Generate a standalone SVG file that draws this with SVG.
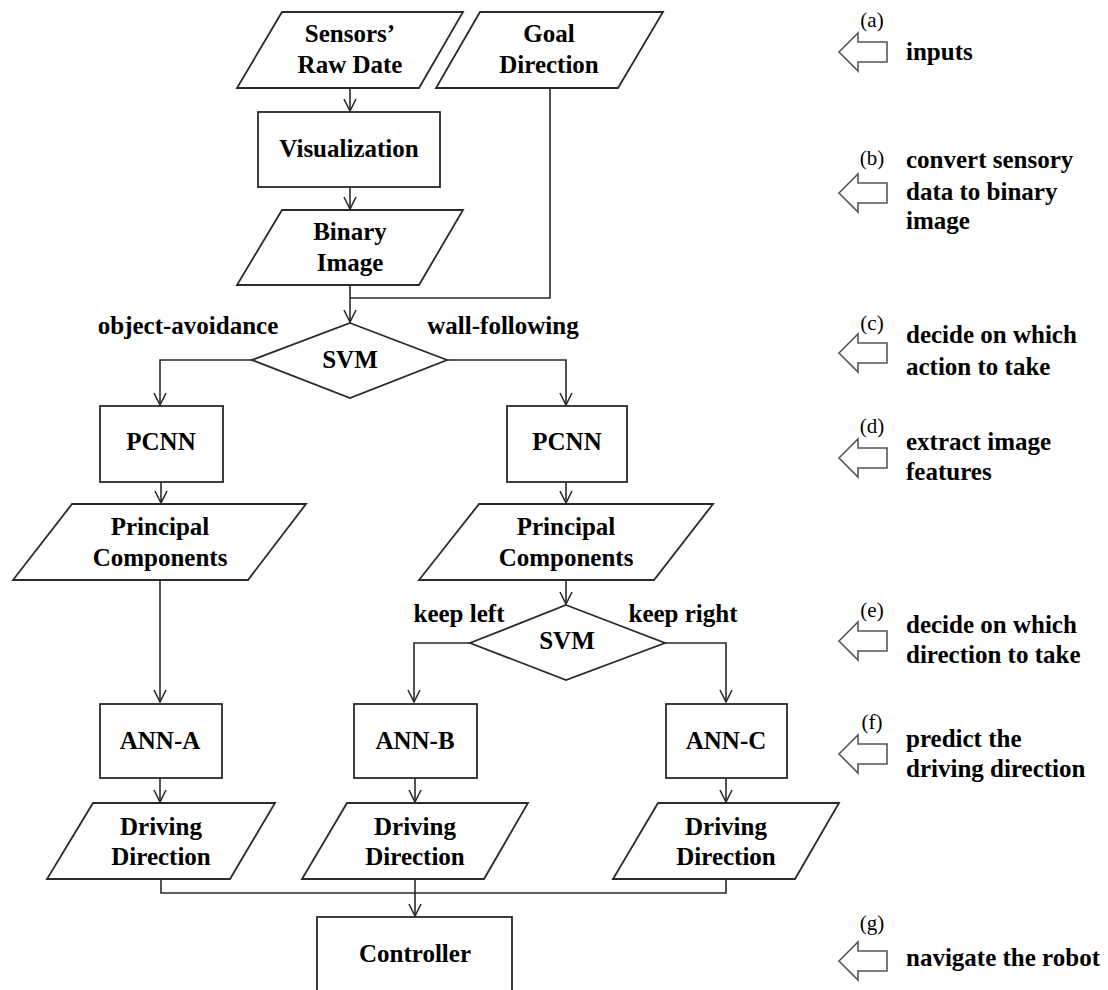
<svg xmlns="http://www.w3.org/2000/svg" width="1108" height="990" viewBox="0 0 1108 990">
  <style>
    .box { fill: #ffffff; stroke: #2a2a2a; stroke-width: 1.8; }
    .lbl { font-family: "Liberation Serif", "Times New Roman", serif; font-weight: bold; font-size: 25px; fill: #000; text-anchor: middle; }
    .note { font-family: "Liberation Serif", "Times New Roman", serif; font-weight: bold; font-size: 25px; fill: #000; }
    .tag { font-family: "Liberation Serif", "Times New Roman", serif; font-size: 21px; fill: #000; text-anchor: middle; }
    .wire { fill: none; stroke: #2a2a2a; stroke-width: 1.6; }
    .hollow { fill: #ffffff; stroke: #555; stroke-width: 1.6; stroke-linejoin: miter; }
  </style>
  <defs>
    <marker id="vhead" markerUnits="userSpaceOnUse" markerWidth="16" markerHeight="16" viewBox="-14 -8 16 16" refX="0" refY="0" orient="auto">
      <path d="M-12,-6 L0,0 L-12,6" fill="none" stroke="#2a2a2a" stroke-width="1.6"/>
    </marker>
  </defs>
  <rect width="1108" height="990" fill="#ffffff"/>

  <!-- connectors -->
  <g id="connectors">
    <path class="wire" d="M350,88 V111" marker-end="url(#vhead)"/>
    <path class="wire" d="M350,187 V209" marker-end="url(#vhead)"/>
    <path class="wire" d="M350,285 V322" marker-end="url(#vhead)"/>
    <path class="wire" d="M550,88 V298 H350"/>
    <path class="wire" d="M252,360 H160 V405" marker-end="url(#vhead)"/>
    <path class="wire" d="M447,360 H566 V405" marker-end="url(#vhead)"/>
    <path class="wire" d="M161,482 V503" marker-end="url(#vhead)"/>
    <path class="wire" d="M566,482 V503" marker-end="url(#vhead)"/>
    <path class="wire" d="M160,580 V702" marker-end="url(#vhead)"/>
    <path class="wire" d="M566,580 V604" marker-end="url(#vhead)"/>
    <path class="wire" d="M470,643 H414 V702" marker-end="url(#vhead)"/>
    <path class="wire" d="M665,643 H726 V702" marker-end="url(#vhead)"/>
    <path class="wire" d="M160,778 V802" marker-end="url(#vhead)"/>
    <path class="wire" d="M415,778 V802" marker-end="url(#vhead)"/>
    <path class="wire" d="M726,778 V802" marker-end="url(#vhead)"/>
    <path class="wire" d="M161,879 V893 H726 V879"/>
    <path class="wire" d="M415,879 V916" marker-end="url(#vhead)"/>
  </g>

  <!-- branch labels -->
  <g id="branch-labels">
    <text class="lbl" x="188" y="334">object-avoidance</text>
    <text class="lbl" x="503" y="334">wall-following</text>
    <text class="lbl" x="459" y="622">keep left</text>
    <text class="lbl" x="683" y="622">keep right</text>
  </g>

  <g id="sensors">
    <polygon class="box" points="282,12 463,12 419,88 237,88"/>
    <text class="lbl" x="350" y="42">Sensors’</text>
    <text class="lbl" x="350" y="73">Raw Date</text>
  </g>
  <g id="goal">
    <polygon class="box" points="480,12 663,12 618,88 436,88"/>
    <text class="lbl" x="549" y="42">Goal</text>
    <text class="lbl" x="549" y="73">Direction</text>
  </g>
  <g id="visualization">
    <rect class="box" x="258" y="112" width="182" height="75"/>
    <text class="lbl" x="349" y="157">Visualization</text>
  </g>
  <g id="binary-image">
    <polygon class="box" points="282,210 463,210 419,285 237,285"/>
    <text class="lbl" x="350" y="240">Binary</text>
    <text class="lbl" x="350" y="271">Image</text>
  </g>
  <g id="svm-action">
    <polygon class="box" points="350,323 447,360 350,398 252,360"/>
    <text class="lbl" x="350" y="368">SVM</text>
  </g>
  <g id="pcnn-left">
    <rect class="box" x="100" y="406" width="123" height="76"/>
    <text class="lbl" x="161" y="450">PCNN</text>
  </g>
  <g id="pcnn-right">
    <rect class="box" x="507" y="406" width="120" height="76"/>
    <text class="lbl" x="567" y="450">PCNN</text>
  </g>
  <g id="pc-left">
    <polygon class="box" points="72,504 306,504 248,580 13,580"/>
    <text class="lbl" x="160" y="535">Principal</text>
    <text class="lbl" x="160" y="566">Components</text>
  </g>
  <g id="pc-right">
    <polygon class="box" points="479,504 713,504 654,580 419,580"/>
    <text class="lbl" x="566" y="535">Principal</text>
    <text class="lbl" x="566" y="566">Components</text>
  </g>
  <g id="svm-direction">
    <polygon class="box" points="566,605 665,643 566,680 470,643"/>
    <text class="lbl" x="567" y="649">SVM</text>
  </g>
  <g id="ann-a">
    <rect class="box" x="100" y="704" width="122" height="74"/>
    <text class="lbl" x="160" y="749">ANN-A</text>
  </g>
  <g id="ann-b">
    <rect class="box" x="354" y="704" width="123" height="74"/>
    <text class="lbl" x="415" y="749">ANN-B</text>
  </g>
  <g id="ann-c">
    <rect class="box" x="666" y="704" width="121" height="74"/>
    <text class="lbl" x="726" y="749">ANN-C</text>
  </g>
  <g id="drive-a">
    <polygon class="box" points="93,803 275,803 230,879 47,879"/>
    <text class="lbl" x="161" y="835">Driving</text>
    <text class="lbl" x="161" y="865">Direction</text>
  </g>
  <g id="drive-b">
    <polygon class="box" points="347,803 528,803 484,879 302,879"/>
    <text class="lbl" x="415" y="835">Driving</text>
    <text class="lbl" x="415" y="865">Direction</text>
  </g>
  <g id="drive-c">
    <polygon class="box" points="658,803 839,803 795,879 613,879"/>
    <text class="lbl" x="726" y="835">Driving</text>
    <text class="lbl" x="726" y="865">Direction</text>
  </g>
  <g id="controller">
    <rect class="box" x="317" y="917" width="195" height="90"/>
    <text class="lbl" x="415" y="962">Controller</text>
  </g>

  <!-- stage annotations on the right -->
  <g id="note-a">
    <text class="tag" x="872" y="27">(a)</text>
    <polygon class="hollow" points="839,52 858,33 858,42 887,42 887,62 858,62 858,71"/>
    <text class="note" x="906" y="60">inputs</text>
  </g>
  <g id="note-b">
    <text class="tag" x="872" y="165">(b)</text>
    <polygon class="hollow" points="839,193 858,174 858,183 887,183 887,203 858,203 858,212"/>
    <text class="note" x="906" y="168">convert sensory</text>
    <text class="note" x="906" y="200">data to binary</text>
    <text class="note" x="906" y="229">image</text>
  </g>
  <g id="note-c">
    <text class="tag" x="872" y="330">(c)</text>
    <polygon class="hollow" points="839,353 858,334 858,343 887,343 887,363 858,363 858,372"/>
    <text class="note" x="906" y="343">decide on which</text>
    <text class="note" x="906" y="375">action to take</text>
  </g>
  <g id="note-d">
    <text class="tag" x="872" y="433">(d)</text>
    <polygon class="hollow" points="839,458 858,439 858,448 887,448 887,468 858,468 858,477"/>
    <text class="note" x="906" y="450">extract image</text>
    <text class="note" x="906" y="480">features</text>
  </g>
  <g id="note-e">
    <text class="tag" x="872" y="617">(e)</text>
    <polygon class="hollow" points="839,641 858,622 858,631 887,631 887,651 858,651 858,660"/>
    <text class="note" x="906" y="633">decide on which</text>
    <text class="note" x="906" y="663">direction to take</text>
  </g>
  <g id="note-f">
    <text class="tag" x="872" y="729">(f)</text>
    <polygon class="hollow" points="839,754 858,735 858,744 887,744 887,764 858,764 858,773"/>
    <text class="note" x="906" y="747">predict the</text>
    <text class="note" x="906" y="777">driving direction</text>
  </g>
  <g id="note-g">
    <text class="tag" x="872" y="930">(g)</text>
    <polygon class="hollow" points="839,961 858,942 858,951 887,951 887,971 858,971 858,980"/>
    <text class="note" x="906" y="966">navigate the robot</text>
  </g>
</svg>
